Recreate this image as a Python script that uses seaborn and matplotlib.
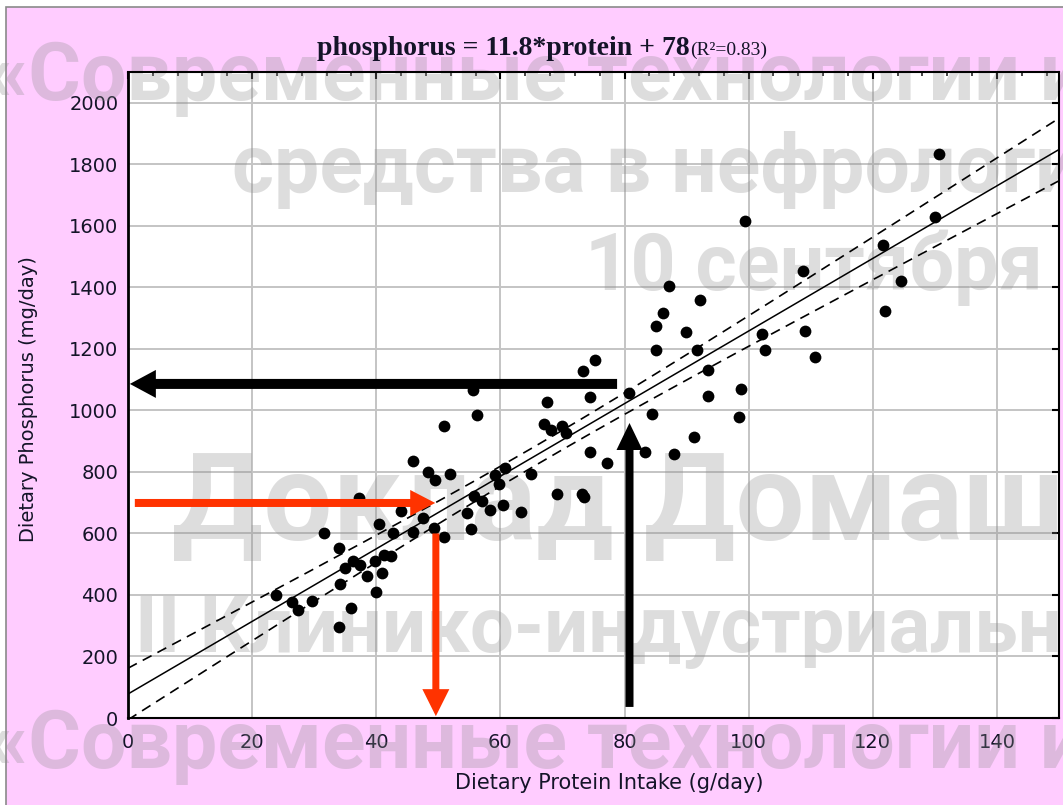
import numpy as np
import matplotlib
matplotlib.use("Agg")
import matplotlib.pyplot as plt
import seaborn as sns
from matplotlib.patches import Rectangle
from matplotlib.ticker import MultipleLocator

# ---------------- data ----------------
protein = [23.8, 26.4, 27.4, 29.6, 31.6, 34.0, 34.9, 34.2, 34.0, 36.0, 36.3, 37.4,
           37.2, 38.5, 39.8, 40.0, 41.0, 40.4, 41.2, 42.3, 42.7, 44.0, 45.9, 45.9,
           48.4, 49.5, 51.8, 50.9, 47.6, 49.3, 50.9, 54.6, 55.2, 55.8, 57.0, 58.4,
           60.4, 59.8, 59.2, 60.8, 63.3, 65.0, 69.1, 73.1, 73.5, 67.0, 68.1, 69.9,
           70.5, 67.5, 56.2, 55.6, 74.5, 77.2, 74.4, 73.3, 75.3, 80.7, 84.4, 83.3,
           88.0, 91.2, 130.6, 130.1, 99.4, 121.6, 124.5, 122.0, 108.8, 109.0, 110.7,
           102.1, 102.6, 87.2, 92.1, 86.2, 85.1, 89.9, 85.0, 91.6, 93.4, 93.4, 98.8, 98.5]
phosphorus = [400, 378, 351, 381, 603, 554, 487, 436, 297, 357, 509, 498,
              714, 460, 509, 408, 470, 631, 530, 527, 603, 674, 606, 837,
              801, 774, 792, 948, 650, 617, 590, 666, 615, 723, 704, 676,
              693, 762, 790, 814, 670, 792, 727, 727, 720, 955, 937, 950,
              928, 1026, 985, 1067, 864, 830, 1042, 1127, 1164, 1055, 987, 864,
              858, 915, 1833, 1630, 1616, 1538, 1419, 1323, 1454, 1259, 1175,
              1249, 1197, 1405, 1359, 1316, 1275, 1254, 1197, 1197, 1132, 1047, 1070, 977]

slope, intercept, r_squared = 11.8, 78, 0.83
t_crit = 1.99

x_ticks = list(range(0, 141, 20))
y_ticks = list(range(0, 2001, 200))
x_limits = (0, 150)
y_limits = (0, 2100)

title_main = f"phosphorus = {slope}*protein + {intercept}"
title_r2 = f"(R²={r_squared})"
x_label = "Dietary Protein Intake (g/day)"
y_label = "Dietary Phosphorus (mg/day)"

# annotation arrows: tail (x, y) -> tip (x, y), colour, shaft px, head width px, head length px
arrows = [
    ((78.8, 1086), (0.3, 1086), "black", 10, 28, 26),
    ((80.8, 36), (80.8, 959), "black", 8, 26, 27),
    ((1.1, 699), (49.5, 699), "#ff3300", 8, 26, 25),
    ((49.6, 600), (49.6, 6), "#ff3300", 7, 27, 27),
]

# watermark lines: text, left px, baseline px, size pt
watermarks = [
    ("«Современные технологии и", -12, 100, 58),
    ("средства в нефрологии", 232, 192, 58),
    ("10 сентября", 585, 290, 57),
    ("Доклад Домаш", 172, 540, 88),
    ("II Клинико-индустриальн", 135, 652, 56),
    ("«Современные технологии и", -12, 768, 58),
]

# ---------------- figure ----------------
W, H = 1063, 805
sns.set_theme(style="white")
plt.rcParams["font.family"] = ["DejaVu Sans"]

fig = plt.figure(figsize=(W / 100, H / 100), dpi=100)
fig.patch.set_facecolor("white")
fig.patches.append(Rectangle((6 / W, -0.01), 1.0, (H - 7) / H + 0.01,
                             transform=fig.transFigure, facecolor="#ffccff",
                             edgecolor="#8a8a8a", linewidth=1.2, zorder=-1))

ax = fig.add_axes([128 / W, 1 - 718 / H, (1059 - 128) / W, (718 - 72) / H])
ax.set_facecolor("white")
ax.set_axisbelow(True)

sns.scatterplot(x=protein, y=phosphorus, color="black", s=72, linewidth=0,
                ax=ax, zorder=4, legend=False)

x = np.asarray(protein, float)
y = np.asarray(phosphorus, float)
n = len(x)
xbar = x.mean()
sxx = ((x - xbar) ** 2).sum()
resid = y - (slope * x + intercept)
s = np.sqrt((resid ** 2).sum() / (n - 2))
xs = np.linspace(x_limits[0], x_limits[1], 300)
fit = slope * xs + intercept
half = t_crit * s * np.sqrt(1 / n + (xs - xbar) ** 2 / sxx)

ax.plot(xs, fit, color="black", lw=1.1, zorder=3)
ax.plot(xs, fit + half, color="black", lw=1.2, dashes=(6, 4), zorder=3)
ax.plot(xs, fit - half, color="black", lw=1.2, dashes=(6, 4), zorder=3)

px2pt = 0.72
for (tail, tip, col, shaft, hw, hl) in arrows:
    ax.annotate("", xy=tip, xytext=tail,
                arrowprops=dict(arrowstyle=f"simple,head_length={hl*px2pt},head_width={hw*px2pt},tail_width={shaft*px2pt}",
                                mutation_scale=1, color=col, shrinkA=0, shrinkB=0, lw=0),
                zorder=5)

ax.set_xlim(*x_limits)
ax.set_ylim(*y_limits)
ax.set_xticks(x_ticks)
ax.set_yticks(y_ticks)
ax.xaxis.set_minor_locator(MultipleLocator(4))
ax.grid(True, which="major", color="#c4c4c4", lw=1.4)

ax.tick_params(axis="both", which="major", direction="in", length=5, width=1.5,
               top=True, right=True, labelsize=14, labelcolor="#141428", color="black")
ax.tick_params(axis="x", which="major", pad=11)
ax.tick_params(axis="y", which="major", pad=7)
ax.tick_params(axis="x", which="minor", direction="in", length=3, width=1.2,
               top=True, bottom=False)
for sp in ax.spines.values():
    sp.set_color("black")
    sp.set_linewidth(1.5)
ax.spines["left"].set_linewidth(2)

ax.set_xlabel(x_label, fontsize=15, color="#141428")
ax.set_ylabel(y_label, fontsize=14, color="#141428")
ax.xaxis.set_label_coords((609 - 128) / 931, (718 - 773) / 646)
ax.yaxis.set_label_coords((38 - 128) / 931, 0.494)

fig.text(690 / W, 1 - 55 / H, title_main, ha="right", va="baseline",
         family="Liberation Serif", weight="bold", size=20, color="#141428")
fig.text(690 / W, 1 - 55 / H, title_r2, ha="left", va="baseline",
         family="Liberation Serif", size=14, color="#141428")

for txt, xp, yp, sz in watermarks:
    ax.text(xp / W, 1 - yp / H, txt, transform=fig.transFigure, ha="left",
            va="baseline", family=["Roboto", "DejaVu Sans"], weight="bold",
            size=sz, color=(0.55, 0.55, 0.55), alpha=0.29, zorder=1, clip_on=False)

fig.savefig("out.png", dpi=100)
